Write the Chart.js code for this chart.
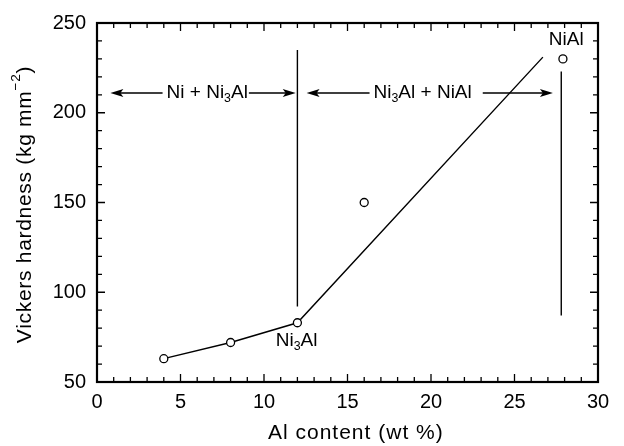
<!DOCTYPE html>
<html>
<head>
<meta charset="utf-8">
<script src="https://cdn.jsdelivr.net/npm/chart.js@4"></script>
<style>
  html, body { margin: 0; padding: 0; background: #fff; }
</style>
</head>
<body>
<canvas id="chart" width="624" height="446"></canvas>
<script>
// measured alloys: Al content (wt %) vs Vickers hardness (kg mm-2)
const alContent = [4, 8, 12, 16, 27.9];
const hardness = [63, 72, 83, 150, 230];

// hand-drawn trend line through the Ni + Ni3Al points, then up towards NiAl
const trendX = [4, 8, 12, 26.7];
const trendY = [63, 72, 83, 231];

// phase boundaries (vertical lines): x, top, bottom
const boundaryX = [12, 27.8];
const boundaryTop = [235, 223];
const boundaryBottom = [92, 87];

// two-phase field arrows
const arrowY = 211;
const arrowFrom = [0.8, 12.55];
const arrowTo = [11.9, 27.3];
const arrowLabelX = [6.6, 19.5];

// axis ticks
const xTicks = [0, 5, 10, 15, 20, 25, 30];
const yTicks = [50, 100, 150, 200, 250];

const FONT = '"Liberation Sans", Arial, Helvetica, sans-serif';
Chart.defaults.font.family = FONT;
Chart.defaults.color = '#000';

// draws a run of text with optional sub/superscripts, centred on x
function drawRich(ctx, parts, x, y, size, spacing) {
  ctx.letterSpacing = (spacing || 0) + 'px';
  let total = 0;
  parts.forEach(p => {
    const s = (p.sub || p.sup) ? size * 0.65 : size;
    ctx.font = s + 'px ' + FONT;
    p.w = ctx.measureText(p.t).width;
    total += p.w;
  });
  let cx = x - total / 2;
  ctx.textAlign = 'left';
  ctx.textBaseline = 'middle';
  parts.forEach(p => {
    const s = (p.sub || p.sup) ? size * 0.65 : size;
    ctx.font = s + 'px ' + FONT;
    const dy = p.sub ? size * 0.3 : p.sup ? -size * 0.4 : 0;
    ctx.fillText(p.t, cx, y + dy);
    cx += p.w;
  });
  ctx.letterSpacing = '0px';
  return { left: x - total / 2, right: x + total / 2 };
}

function arrowHead(ctx, x, y, dir) {
  ctx.beginPath();
  ctx.moveTo(x, y);
  ctx.lineTo(x - dir * 13, y - 4);
  ctx.lineTo(x - dir * 10, y);
  ctx.lineTo(x - dir * 13, y + 4);
  ctx.closePath();
  ctx.fill();
}

const arrowLabels = [
  [{ t: 'Ni + Ni' }, { t: '3', sub: true }, { t: 'Al' }],
  [{ t: 'Ni' }, { t: '3', sub: true }, { t: 'Al + NiAl' }]
];

const framePlugin = {
  id: 'frame',
  afterDraw(chart) {
    const ctx = chart.ctx;
    const a = chart.chartArea;
    const xs = chart.scales.x, ys = chart.scales.y;
    ctx.save();
    ctx.strokeStyle = '#000';
    ctx.fillStyle = '#000';

    // inward tick marks on all four sides
    ctx.lineWidth = 1.3;
    ctx.beginPath();
    for (let v = 1; v < 30; v++) {
      const px = xs.getPixelForValue(v);
      const len = v % 5 === 0 ? 8 : 5;
      ctx.moveTo(px, a.bottom); ctx.lineTo(px, a.bottom - len);
      ctx.moveTo(px, a.top); ctx.lineTo(px, a.top + len);
    }
    for (let v = 60; v < 250; v += 10) {
      const py = ys.getPixelForValue(v);
      const len = v % 50 === 0 ? 8 : 5;
      ctx.moveTo(a.left, py); ctx.lineTo(a.left + len, py);
      ctx.moveTo(a.right, py); ctx.lineTo(a.right - len, py);
    }
    ctx.stroke();

    // frame
    ctx.lineWidth = 2.2;
    ctx.strokeRect(a.left, a.top, a.right - a.left, a.bottom - a.top);

    // phase boundaries
    ctx.lineWidth = 1.4;
    ctx.beginPath();
    boundaryX.forEach((bx, i) => {
      const px = xs.getPixelForValue(bx);
      ctx.moveTo(px, ys.getPixelForValue(boundaryTop[i]));
      ctx.lineTo(px, ys.getPixelForValue(boundaryBottom[i]));
    });
    ctx.stroke();

    // arrows with phase labels
    const py = ys.getPixelForValue(arrowY);
    arrowFrom.forEach((x0, i) => {
      const p0 = xs.getPixelForValue(x0);
      const p1 = xs.getPixelForValue(arrowTo[i]);
      const span = drawRich(ctx, arrowLabels[i], xs.getPixelForValue(arrowLabelX[i]), py, 19);
      ctx.lineWidth = 1.3;
      ctx.beginPath();
      ctx.moveTo(p0 + 8, py); ctx.lineTo(span.left - 4, py);
      ctx.moveTo(span.right + (i === 1 ? 11 : 1), py); ctx.lineTo(p1 - 8, py);
      ctx.stroke();
      arrowHead(ctx, p0, py, -1);
      arrowHead(ctx, p1, py, 1);
    });

    // point labels
    drawRich(ctx, [{ t: 'NiAl' }], xs.getPixelForValue(28.1), ys.getPixelForValue(240.5), 19);
    drawRich(ctx, [{ t: 'Ni' }, { t: '3', sub: true }, { t: 'Al' }],
      xs.getPixelForValue(11.95), ys.getPixelForValue(73), 19);

    // x axis title
    drawRich(ctx, [{ t: 'Al content (wt %)' }], xs.getPixelForValue(15.5), 433, 21, 1);

    // y axis title with superscript
    ctx.translate(25, (a.top + a.bottom) / 2 + 2);
    ctx.rotate(-Math.PI / 2);
    drawRich(ctx, [{ t: 'Vickers hardness (kg mm' }, { t: '\u22122', sup: true }, { t: ')' }], 0, 0, 21, 0.7);
    ctx.restore();
  }
};

new Chart(document.getElementById('chart'), {
  type: 'scatter',
  data: {
    datasets: [
      {
        type: 'scatter',
        data: alContent.map((x, i) => ({ x, y: hardness[i] })),
        pointRadius: 4,
        pointStyle: 'circle',
        pointBackgroundColor: '#fff',
        pointBorderColor: '#000',
        pointBorderWidth: 1.3,
        order: 0
      },
      {
        type: 'line',
        data: trendX.map((x, i) => ({ x, y: trendY[i] })),
        borderColor: '#000',
        borderWidth: 1.4,
        pointRadius: 0,
        tension: 0,
        fill: false,
        order: 1
      }
    ]
  },
  options: {
    responsive: false,
    animation: false,
    events: [],
    layout: { padding: { left: 0, top: 18, right: 26, bottom: 0 } },
    plugins: { legend: { display: false }, tooltip: { enabled: false } },
    scales: {
      x: {
        type: 'linear',
        min: 0,
        max: 30,
        afterBuildTicks: s => { s.ticks = xTicks.map(v => ({ value: v })); },
        afterFit: s => { s.height = 64; },
        grid: { display: false, drawTicks: false },
        border: { display: false },
        ticks: { font: { size: 20 }, color: '#000', padding: 8, maxRotation: 0 }
      },
      y: {
        type: 'linear',
        min: 50,
        max: 250,
        afterBuildTicks: s => { s.ticks = yTicks.map(v => ({ value: v })); },
        afterFit: s => { s.width = 97; },
        grid: { display: false, drawTicks: false },
        border: { display: false },
        ticks: { font: { size: 20 }, color: '#000', padding: 11 }
      }
    }
  },
  plugins: [framePlugin]
});
</script>
</body>
</html>
